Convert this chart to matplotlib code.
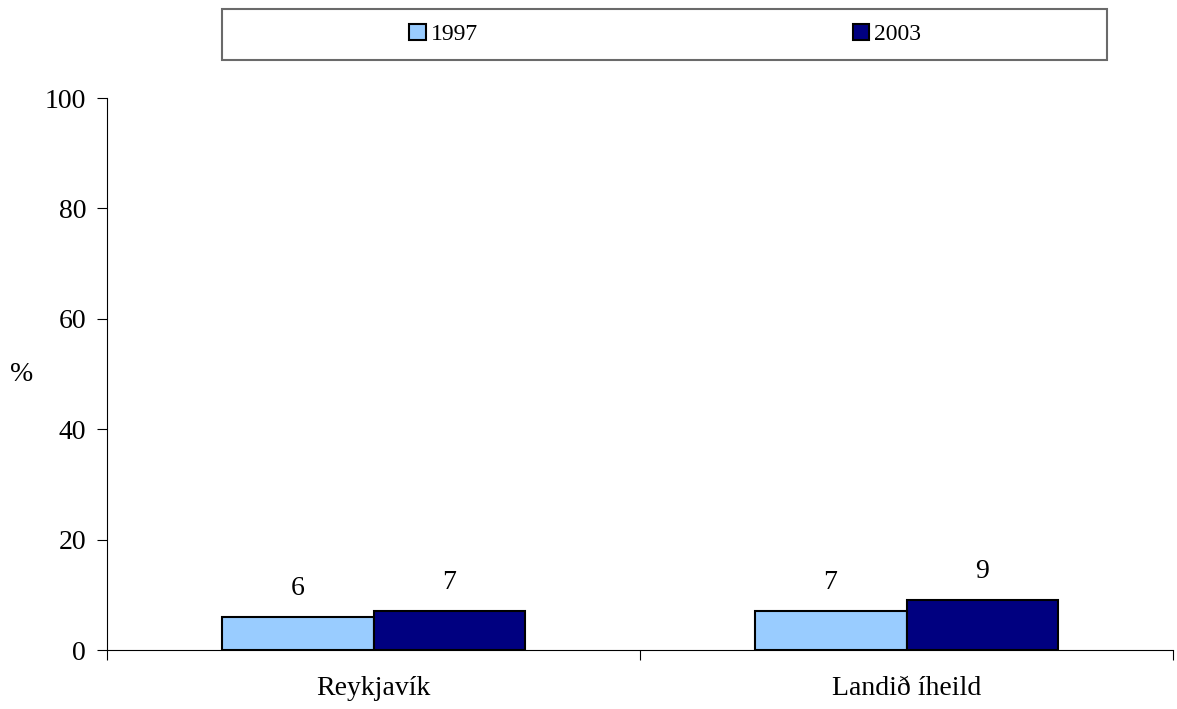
import numpy as np
import matplotlib.pyplot as plt
from matplotlib.patches import Rectangle

plt.rcParams['font.family'] = ['Liberation Serif', 'DejaVu Serif']

# Gögn
flokkar = ['Reykjavík', 'Landið íheild']
ar = ['1997', '2003']
gildi_1997 = [6, 7]
gildi_2003 = [7, 9]
litir = ['#99CCFF', '#000080']

fig = plt.figure(figsize=(11.77, 7.09), dpi=100)
ax = fig.add_axes([107/1177, 1-650/709, 1066/1177, 552/709])

x = np.arange(len(flokkar))
w = 0.285
b1 = ax.bar(x - w/2, gildi_1997, w, color=litir[0], edgecolor='black', linewidth=1.5, label=ar[0])
b2 = ax.bar(x + w/2, gildi_2003, w, color=litir[1], edgecolor='black', linewidth=1.5, label=ar[1])

for bars, vals in [(b1, gildi_1997), (b2, gildi_2003)]:
    for r, v in zip(bars, vals):
        ax.annotate(str(v), (r.get_x() + r.get_width()/2, v), xytext=(0, 11.5),
                    textcoords='offset points', ha='center', va='bottom', fontsize=20)

ax.set_xlim(-0.5, 1.5)
ax.set_ylim(0, 100)
ax.set_yticks(range(0, 101, 20))
ax.set_xticks(x)
ax.set_xticklabels(flokkar)
ax.set_xticks([-0.5, 0.5, 1.5], minor=True)
ax.tick_params(axis='x', which='major', length=0, pad=19, labelsize=20)
ax.tick_params(axis='x', which='minor', length=7, width=0.8, direction='out')
ax.tick_params(axis='y', length=7, width=0.8, direction='out', pad=8, labelsize=20)
for s in ['top', 'right']:
    ax.spines[s].set_visible(False)
for s in ['left', 'bottom']:
    ax.spines[s].set_linewidth(0.8)
fig.text(22/1177, 1-375/709, '%', ha='center', va='center', fontsize=20)

# Skýringarkassi
fig.patches.append(Rectangle((222/1177, 1-60/709), 885/1177, 51/709, transform=fig.transFigure,
                             facecolor='white', edgecolor='#6a6a6a', linewidth=1.5))
for h, lab, cx in [(b1, ar[0], 444/1177), (b2, ar[1], 887/1177)]:
    fig.legend([h], [lab], loc='center', bbox_to_anchor=(cx, 1-34.5/709), frameon=False,
               fontsize=17, handlelength=0.68, handleheight=0.68, handletextpad=0.25, borderpad=0)

fig.savefig('out.png', dpi=100)
plt.close()
